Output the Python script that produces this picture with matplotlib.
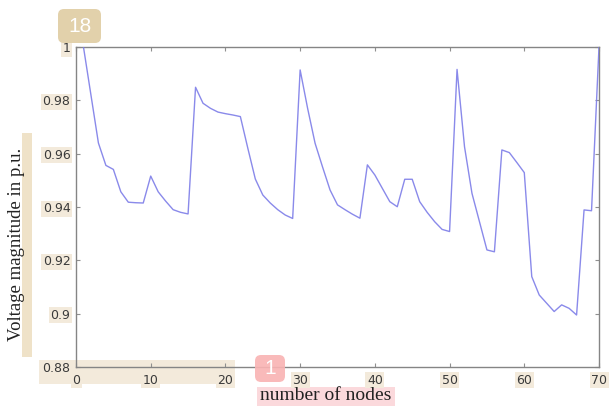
import matplotlib
matplotlib.use("Agg")
import matplotlib.pyplot as plt
from matplotlib.patches import FancyBboxPatch, Rectangle

# ---- data ----
nodes = list(range(1, 71))
voltage = [
    1.0000, 0.9820, 0.9640, 0.9556, 0.9541, 0.9457, 0.9418, 0.9416, 0.9415, 0.9516,
    0.9457, 0.9422, 0.9390, 0.9380, 0.9374, 0.9849, 0.9789, 0.9770, 0.9756, 0.9750,
    0.9745, 0.9739, 0.9620, 0.9505, 0.9445, 0.9415, 0.9390, 0.9370, 0.9357, 0.9914,
    0.9770, 0.9639, 0.9550, 0.9464, 0.9408, 0.9390, 0.9373, 0.9358, 0.9558, 0.9520,
    0.9470, 0.9420, 0.9401, 0.9504, 0.9504, 0.9420, 0.9380, 0.9345, 0.9316, 0.9308,
    0.9916, 0.9626, 0.9451, 0.9345, 0.9239, 0.9232, 0.9614, 0.9604, 0.9567, 0.9529,
    0.9139, 0.9070, 0.9039, 0.9008, 0.9033, 0.9020, 0.8995, 0.9389, 0.9386, 1.0000,
]
xticks = [0, 10, 20, 30, 40, 50, 60, 70]
yticks = [0.88, 0.90, 0.92, 0.94, 0.96, 0.98, 1.00]
ytick_labels = ["0.88", "0.9", "0.92", "0.94", "0.96", "0.98", "1"]
xlabel = "number of nodes"
ylabel = "Voltage magnitude in p.u."
badge_top = "18"
badge_bottom = "1"

W, H = 613, 413
fig = plt.figure(figsize=(W / 100, H / 100), dpi=100)
fig.patch.set_facecolor("white")

def fx(px):
    return px / W

def fy(py):
    return 1 - py / H

ax_l, ax_r, ax_t, ax_b = 76, 599, 47, 367
ax = fig.add_axes([fx(ax_l), fy(ax_b), fx(ax_r - ax_l), (ax_b - ax_t) / H])
ax.set_facecolor("none")

ax.plot(nodes, voltage, color="#7d7de8", lw=1.0, alpha=0.9, zorder=3, clip_on=True)
ax.set_xlim(0, 70)
ax.set_ylim(0.88, 1.0)
ax.set_xticks(xticks)
ax.set_xticklabels([str(t) for t in xticks])
ax.set_yticks(yticks)
ax.set_yticklabels(ytick_labels)

for s in ax.spines.values():
    s.set_color("#858585")
    s.set_linewidth(1.0)
ax.tick_params(direction="in", length=3, width=0.8, color="#909090",
               top=True, right=True, labelsize=9, labelcolor="#3a3a3a")
ax.tick_params(axis="y", pad=4)
ax.tick_params(axis="x", pad=5)

hl = "#f3eadb"
for lab in ax.get_yticklabels():
    lab.set_bbox(dict(boxstyle="square,pad=0.12", facecolor=hl, edgecolor="none"))
for lab in ax.get_xticklabels():
    lab.set_bbox(dict(boxstyle="square,pad=0.12", facecolor=hl, edgecolor="none"))

dt = fig.dpi_scale_trans
def rect_px(x0, y0, x1, y1, color, z, alpha=1.0, round_=0):
    if round_:
        p = FancyBboxPatch((x0 / 100, (H - y1) / 100), (x1 - x0) / 100, (y1 - y0) / 100,
                           boxstyle=f"round,pad=0,rounding_size={round_/100}",
                           transform=dt, facecolor=color, edgecolor="none",
                           zorder=z, alpha=alpha)
    else:
        p = Rectangle((x0 / 100, (H - y1) / 100), (x1 - x0) / 100, (y1 - y0) / 100,
                      transform=dt, facecolor=color, edgecolor="none", zorder=z, alpha=alpha)
    fig.patches.append(p)
    return p

# background highlight bands
rect_px(39, 360, 235, 384, hl, -1)
rect_px(22, 133, 32, 357, "#efe2c8", -1)
rect_px(257, 387, 395, 406, "#fbd9dc", -1)

# axis labels
fig.text(fx(326), fy(396), xlabel, ha="center", va="center", fontsize=14,
         family="Liberation Serif", color="#222222")
fig.text(fx(17), fy(244), ylabel, ha="center", va="center", rotation=90, fontsize=13.5,
         family="Liberation Serif", color="#222222")

# badges
rect_px(58, 9, 101, 43, "#e2d1ab", 5, round_=6)
fig.text(fx(79.5), fy(27), badge_top, ha="center", va="center", fontsize=15,
         family="Liberation Sans", color="white", zorder=6)
rect_px(255, 355, 285, 382, "#f9b3b3", 5, alpha=0.9, round_=6)
fig.text(fx(270), fy(369), badge_bottom, ha="center", va="center", fontsize=15,
         family="Liberation Sans", color="white", zorder=6)

fig.savefig("out.png", dpi=100)
